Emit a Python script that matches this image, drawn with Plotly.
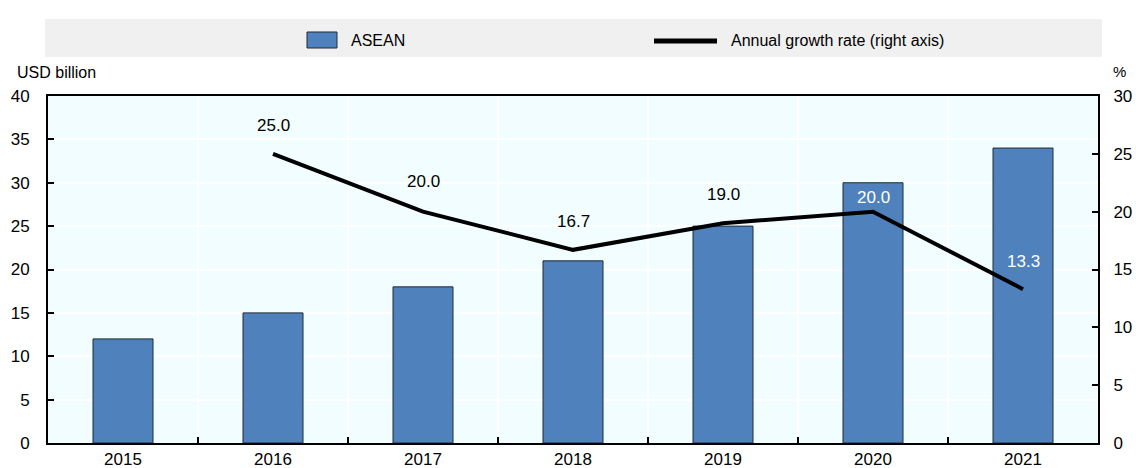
import plotly.graph_objects as go

years = ["2015", "2016", "2017", "2018", "2019", "2020", "2021"]
asean_usd_bn = [12, 15, 18, 21, 25, 30, 34]
growth_years = ["2016", "2017", "2018", "2019", "2020", "2021"]
growth_pct = [25.0, 20.0, 16.7, 19.0, 20.0, 13.3]
bar_name = "ASEAN"
line_name = "Annual growth rate (right axis)"
left_title = "USD billion"
right_title = "%"

# label styling (pixel offsets above points, colours)
label_shift = [28, 30, 28, 29, 14, 28]
label_color = ["#000000", "#000000", "#000000", "#000000", "#FFFFFF", "#FFFFFF"]

FONT = "Liberation Sans, Arial, sans-serif"
TICK_SIZE = 17
W, H = 1136, 468
# target plot box: x 48..1098, y 96..443
L, R, T, B = 48, 1136 - 1098, 96, 468 - 443
PW, PH = W - L - R, H - T - B

def px_x(px):
    return (px - L) / PW

def px_y(py):
    return (H - B - py) / PH

fig = go.Figure()
fig.add_trace(go.Bar(
    x=years, y=asean_usd_bn, name=bar_name,
    marker=dict(color="#4F81BD", line=dict(color="#1F2A36", width=1)),
    width=0.4, showlegend=False,
))
fig.add_trace(go.Scatter(
    x=growth_years, y=growth_pct, name=line_name, yaxis="y2",
    mode="lines", line=dict(color="#000000", width=4),
    showlegend=False,
))

annotations = []
for x, v, s, c in zip(growth_years, growth_pct, label_shift, label_color):
    annotations.append(dict(
        x=years.index(x), y=v, xref="x", yref="y2", text=f"{v:.1f}", showarrow=False,
        yshift=s, font=dict(family=FONT, size=TICK_SIZE, color=c),
    ))
annotations.append(dict(
    x=px_x(15), y=px_y(73), xref="paper", yref="paper", text=left_title,
    showarrow=False, xanchor="left", yanchor="middle",
    font=dict(family=FONT, size=16, color="#000"),
))
annotations.append(dict(
    x=px_x(1111), y=px_y(72), xref="paper", yref="paper", text=right_title,
    showarrow=False, xanchor="left", yanchor="middle",
    font=dict(family=FONT, size=15, color="#000"),
))
# legend texts
annotations.append(dict(
    x=px_x(349), y=px_y(40), xref="paper", yref="paper", text=bar_name,
    showarrow=False, xanchor="left", yanchor="middle",
    font=dict(family=FONT, size=16, color="#000"),
))
annotations.append(dict(
    x=px_x(729), y=px_y(40), xref="paper", yref="paper", text=line_name,
    showarrow=False, xanchor="left", yanchor="middle",
    font=dict(family=FONT, size=16, color="#000"),
))

shapes = [
    dict(type="rect", xref="paper", yref="paper", x0=px_x(45), x1=px_x(1102),
         y0=px_y(57), y1=px_y(19), fillcolor="#F0F0F0", line=dict(width=0), layer="below"),
    dict(type="rect", xref="paper", yref="paper", x0=px_x(307), x1=px_x(337),
         y0=px_y(48), y1=px_y(32), fillcolor="#4F81BD", line=dict(color="#1F2A36", width=1)),
    dict(type="line", xref="paper", yref="paper", x0=px_x(654), x1=px_x(717),
         y0=px_y(41), y1=px_y(41), line=dict(color="#000000", width=5)),
]

fig.update_layout(
    width=W, height=H,
    margin=dict(l=L, r=R, t=T, b=B, autoexpand=False),
    paper_bgcolor="#FFFFFF", plot_bgcolor="#F2FDFF",
    font=dict(family=FONT, size=16, color="#000"),
    annotations=annotations, shapes=shapes,
    xaxis=dict(
        type="category", range=[-0.5, len(years) - 0.5], autorange=False,
        tickson="boundaries", ticks="inside", ticklen=6,
        tickwidth=2, tickcolor="#000", showgrid=True, gridcolor="#FFFFFF",
        gridwidth=2, showline=True, linecolor="#000", linewidth=2, mirror=True,
        tickfont=dict(family=FONT, size=TICK_SIZE, color="#000"),
        ticklabelstandoff=0,
    ),
    yaxis=dict(
        range=[0, 40], dtick=5, ticks="inside", ticklen=6, tickwidth=2,
        tickcolor="#000", showgrid=True, gridcolor="#FFFFFF", gridwidth=2,
        showline=True, linecolor="#000", linewidth=2, zeroline=False,
        tickfont=dict(family=FONT, size=TICK_SIZE, color="#000"),
        ticklabelstandoff=13,
    ),
    yaxis2=dict(
        range=[0, 30], dtick=5, ticks="inside", ticklen=6, tickwidth=2,
        tickcolor="#000", showgrid=False, overlaying="y", side="right",
        showline=True, linecolor="#000", linewidth=2, zeroline=False,
        tickfont=dict(family=FONT, size=TICK_SIZE, color="#000"),
        ticklabelstandoff=10,
    ),
)

fig.write_html(
    "out.html",
    config={"displayModeBar": False},
    post_script=(
        "document.documentElement.style.margin='0';"
        "document.documentElement.style.overflow='hidden';"
        "document.body.style.margin='0';"
        "document.body.style.overflow='hidden';"
    ),
)
